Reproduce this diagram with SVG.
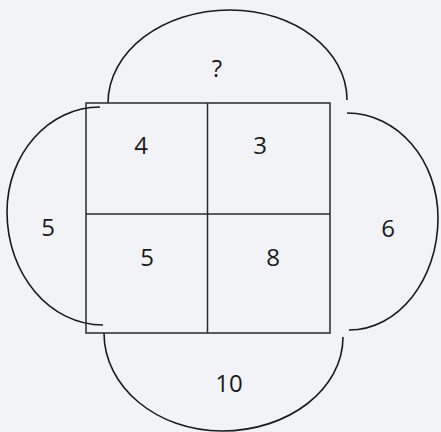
<svg xmlns="http://www.w3.org/2000/svg" width="441" height="432" viewBox="0 0 441 432">
<style>
.arc{fill:none;stroke:#1a1a1a;stroke-width:1.6}
.box{fill:none;stroke:#2a2a2a;stroke-width:1.5}
text{font-family:"Open Sans","Liberation Sans",sans-serif;font-size:24px;fill:#1a1a1a;text-anchor:middle}
</style>
<rect width="441" height="432" fill="#f1f3f7"/>
<g id="connectors">
<path class="arc" d="M108,103 C108,51.6 162.6,10 230,10 C294.6,10 347,50.3 347,100"/>
<path class="arc" d="M100,107 C48.6,107 7,154 7,212 C7,274.4 50,325 103,325"/>
<path class="arc" d="M347,113 C397.3,113 438,160 438,218 C438,279.9 398.2,330 349,330"/>
<path class="arc" d="M104,333 C104,387 157,431 222,431 C288.8,431 343,389 343,337"/>
</g>
<g id="grid">
<rect class="box" x="86" y="103" width="244" height="230"/>
<line class="box" x1="207.5" y1="103" x2="207.5" y2="333"/>
<line class="box" x1="86" y1="214" x2="330" y2="214"/>
</g>
<g id="cell-tl"><text x="141" y="154">4</text></g>
<g id="cell-tr"><text x="260" y="154">3</text></g>
<g id="cell-bl"><text x="147" y="266">5</text></g>
<g id="cell-br"><text x="273" y="266">8</text></g>
<g id="top"><text x="217" y="77">?</text></g>
<g id="left"><text x="48" y="236">5</text></g>
<g id="right"><text x="388" y="237">6</text></g>
<g id="bottom"><text x="229" y="392">10</text></g>
</svg>
